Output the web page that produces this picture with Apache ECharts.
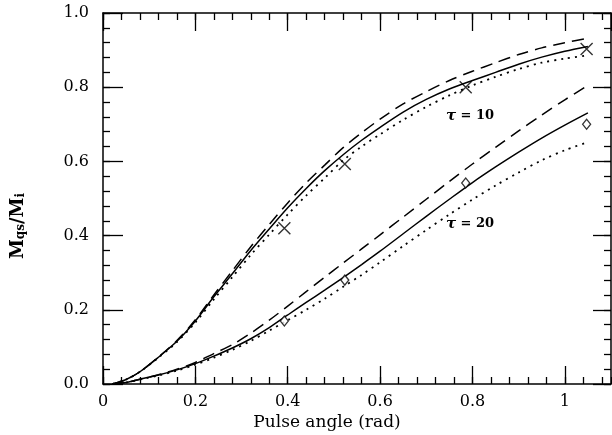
<!DOCTYPE html>
<html><head><meta charset="utf-8">
<script src="https://cdn.jsdelivr.net/npm/echarts@6/dist/echarts.min.js"></script>
<style>html,body{margin:0;padding:0;background:#fff}#c{width:612px;height:435px}</style>
</head><body><div id="c"></div>
<script>
// Pulse angle grid (rad) used to sample the curves
const curveX = [0.02,0.05,0.08,0.12,0.16,0.20,0.24,0.28,0.32,0.36,0.40,0.44,0.48,0.52,0.56,0.60,0.65,0.70,0.75,0.80,0.85,0.90,0.95,1.00,1.05];
// tau = 10 curves
const tau10Solid  = [0,0.012,0.033,0.072,0.115,0.170,0.235,0.297,0.360,0.418,0.475,0.527,0.575,0.618,0.657,0.692,0.733,0.767,0.795,0.818,0.840,0.862,0.881,0.897,0.910];
const tau10Dashed = [0,0.012,0.033,0.073,0.117,0.173,0.240,0.305,0.370,0.430,0.488,0.542,0.590,0.637,0.677,0.714,0.755,0.788,0.818,0.843,0.866,0.888,0.906,0.920,0.932];
const tau10Dotted = [0,0.012,0.033,0.071,0.113,0.166,0.228,0.288,0.348,0.403,0.457,0.508,0.555,0.603,0.640,0.673,0.712,0.747,0.778,0.805,0.828,0.849,0.866,0.877,0.886];
// tau = 20 curves
const tau20Solid  = [0,0.004,0.013,0.024,0.038,0.055,0.075,0.097,0.122,0.152,0.186,0.220,0.253,0.287,0.322,0.358,0.405,0.452,0.498,0.543,0.585,0.625,0.663,0.698,0.731];
const tau20Dashed = [0,0.004,0.013,0.025,0.040,0.058,0.082,0.106,0.137,0.172,0.210,0.249,0.288,0.326,0.364,0.402,0.450,0.498,0.546,0.593,0.638,0.682,0.725,0.766,0.805];
const tau20Dotted = [0,0.004,0.012,0.023,0.036,0.052,0.071,0.092,0.116,0.144,0.172,0.200,0.230,0.262,0.294,0.328,0.372,0.415,0.457,0.497,0.535,0.570,0.603,0.630,0.652];
// measured points
const markerAngles = [0.3927,0.5236,0.7854,1.0472];
const tau10Points = [0.42,0.593,0.80,0.903];
const tau20Points = [0.17,0.28,0.542,0.70];
// text
const xTitle = 'Pulse angle (rad)';
const tau10Label = '10';
const tau20Label = '20';

const FONT = 'DejaVu Serif';
const BLACK = '#000';
const chart = echarts.init(document.getElementById('c'), null, {renderer:'canvas'});

function pairs(xs, ys){ return xs.map((x,i)=>[x, ys[i]]); }
function lineSeries(ys, type, w){
  return {type:'line', data:pairs(curveX, ys), showSymbol:false, smooth:0.3,
    lineStyle:{color:BLACK, width:w, type:type},
    xAxisIndex:0, yAxisIndex:0, z:3, animation:false, silent:true};
}
const dashed = [12,7];
const dotted = [2,5];

function xAx(pos, interval, tickLen, showLine, showLabel){
  return {type:'value', min:0, max:1.1, interval:interval, position:pos,
    axisLine:{show:showLine, onZero:false, lineStyle:{color:BLACK, width:1.5}},
    axisTick:{show:true, inside:true, length:tickLen, lineStyle:{color:BLACK, width:1.3}},
    axisLabel:{show:showLabel, showMaxLabel:false, margin:10, color:BLACK, fontFamily:FONT, fontSize:16,
      formatter:v=> (Math.abs(v-1)<1e-9 ? '1' : (v===0 ? '0' : v.toFixed(1)))},
    splitLine:{show:false}};
}
function yAx(pos, interval, tickLen, showLine, showLabel){
  return {type:'value', min:0, max:1.0, interval:interval, position:pos,
    axisLine:{show:showLine, onZero:false, lineStyle:{color:BLACK, width:1.5}},
    axisTick:{show:true, inside:true, length:tickLen, lineStyle:{color:BLACK, width:1.3}},
    axisLabel:{show:showLabel, margin:14, color:BLACK, fontFamily:FONT, fontSize:16,
      formatter:v=>v.toFixed(1)},
    splitLine:{show:false}};
}

chart.setOption({
  animation:false,
  backgroundColor:'#fff',
  grid:{left:103, right:1, top:13, bottom:51, containLabel:false},
  xAxis:[
    xAx('bottom',0.2,18,true,true),
    xAx('bottom',0.04,7,false,false),
    xAx('top',0.2,18,true,false),
    xAx('top',0.04,7,false,false)
  ],
  yAxis:[
    yAx('left',0.2,20,true,true),
    yAx('left',0.04,7,false,false),
    yAx('right',0.2,18,true,false),
    yAx('right',0.04,7,false,false)
  ],
  series:[
    lineSeries(tau10Solid,'solid',1.5),
    lineSeries(tau10Dashed,dashed,1.5),
    lineSeries(tau10Dotted,dotted,1.8),
    lineSeries(tau20Solid,'solid',1.5),
    lineSeries(tau20Dashed,dashed,1.5),
    lineSeries(tau20Dotted,dotted,1.8),
    {type:'scatter', data:pairs(markerAngles,tau10Points), symbol:'path://M0,0L10,10M10,0L0,10',
      symbolSize:12, itemStyle:{color:'none', borderColor:BLACK, borderWidth:1.4}, z:4, silent:true},
    {type:'scatter', data:pairs(markerAngles,tau20Points), symbol:'diamond',
      symbolSize:[8,10], itemStyle:{color:'#fff', borderColor:BLACK, borderWidth:1.3}, z:4, silent:true}
  ],
  graphic:[
    {type:'text', x:327, y:423, style:{text:xTitle, font:'17px "DejaVu Serif"', fill:BLACK, textAlign:'center', textVerticalAlign:'middle'}},
    {type:'text', x:16, y:226, rotation:Math.PI/2,
      style:{text:'{m|M}{s|qs}{m|/M}{s|i}', fill:BLACK, textAlign:'center', textVerticalAlign:'middle',
        rich:{m:{fontFamily:FONT, fontSize:18, fontWeight:'bold', fill:BLACK, verticalAlign:'bottom', lineHeight:22},
              s:{fontFamily:FONT, fontSize:12, fontWeight:'bold', fill:BLACK, verticalAlign:'bottom', lineHeight:16}}}},
    {type:'text', x:470, y:116, style:{text:'{t|τ} = '+tau10Label, fill:BLACK, textAlign:'center', textVerticalAlign:'middle',
      font:'bold 13px "DejaVu Serif"', rich:{t:{fontFamily:FONT, fontStyle:'italic', fontWeight:'bold', fontSize:15}}}},
    {type:'text', x:470, y:224, style:{text:'{t|τ} = '+tau20Label, fill:BLACK, textAlign:'center', textVerticalAlign:'middle',
      font:'bold 13px "DejaVu Serif"', rich:{t:{fontFamily:FONT, fontStyle:'italic', fontWeight:'bold', fontSize:15}}}}
  ]
});
</script></body></html>
